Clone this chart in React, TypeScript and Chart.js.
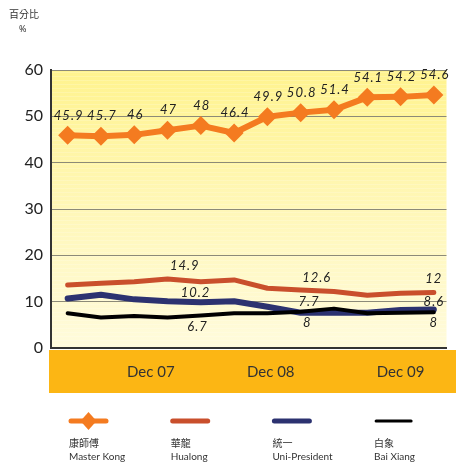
import React, { useEffect, useRef } from "react";
import { Chart, registerables } from "chart.js";

Chart.register(...registerables);

// ---- data ----
const seriesNamesZh = ["康師傅", "華龍", "統一", "白象"];
const seriesNamesEn = ["Master Kong", "Hualong", "Uni-President", "Bai Xiang"];
const seriesColors = ["#f47b20", "#c94f2c", "#2c3270", "#000000"];
const seriesWidths = [6, 5, 6, 4];

const masterKong = [45.9, 45.7, 46, 47, 48, 46.4, 49.9, 50.8, 51.4, 54.1, 54.2, 54.6];
const hualong = [13.6, 14.0, 14.3, 14.9, 14.3, 14.7, 12.9, 12.5, 12.2, 11.4, 11.8, 12.0];
const uniPresident = [10.7, 11.5, 10.5, 10.1, 9.9, 10.1, 8.9, 7.6, 7.6, 7.6, 8.2, 8.3];
const baiXiang = [7.5, 6.6, 6.9, 6.6, 7.0, 7.5, 7.5, 7.8, 8.5, 7.5, 7.6, 7.7];
const allSeries = [masterKong, hualong, uniPresident, baiXiang];

const xTickLabels = ["Dec 07", "Dec 08", "Dec 09"];
const xTickAt = [2.5, 6.1, 10.0];

const yTicks = [0, 10, 20, 30, 40, 50, 60];

// value labels for the smaller series: series index, position on x, text, pixel nudge
const extraLabels = [
  { s: 1, at: 3.52, text: "14.9", dy: -13 },
  { s: 1, at: 7.48, text: "12.6", dy: -12 },
  { s: 1, at: 11, text: "12", dy: -14 },
  { s: 2, at: 3.84, text: "10.2", dy: -8 },
  { s: 2, at: 11, text: "8.6", dy: -6 },
  { s: 3, at: 3.9, text: "6.7", dy: 10 },
  { s: 3, at: 7.25, text: "7.7", dy: -11 },
  { s: 2, at: 7.2, text: "8", dy: 12 },
  { s: 3, at: 11, text: "8", dy: 12 },
];

const bgPlugin = {
  id: "bgPlugin",
  beforeDraw(chart: any) {
    const { ctx, chartArea: a } = chart;
    ctx.save();
    ctx.fillStyle = "#ffffff";
    ctx.fillRect(0, 0, chart.width, chart.height);
    const g = ctx.createLinearGradient(0, a.top, 0, a.bottom);
    g.addColorStop(0, "#fff38e");
    g.addColorStop(0.5, "#fff7b8");
    g.addColorStop(1, "#fffbdc");
    ctx.fillStyle = g;
    ctx.fillRect(a.left, a.top, a.right - a.left, a.bottom - a.top);
    // faint stripes
    ctx.fillStyle = "rgba(255,255,255,0.18)";
    for (let y = a.top + 2; y < a.bottom; y += 4) {
      ctx.fillRect(a.left, y, a.right - a.left, 1);
    }
    // orange axis band
    ctx.fillStyle = "#fcb614";
    ctx.fillRect(a.left - 2, a.bottom + 2, chart.width - a.left + 2, 43);
    // unit title
    ctx.fillStyle = "#333333";
    ctx.font = '10px "Noto Sans CJK TC"';
    ctx.textBaseline = "middle";
    ctx.textAlign = "left";
    ctx.fillText("百分比", 9, 14);
    ctx.font = '9px "Noto Sans"';
    ctx.fillText("%", 19, 29);
    ctx.restore();
  },
};

const labelPlugin = {
  id: "labelPlugin",
  afterDatasetsDraw(chart: any) {
    const { ctx } = chart;
    const xs = chart.scales.x;
    const ys = chart.scales.y;
    ctx.save();
    ctx.fillStyle = "#222222";
    ctx.font = 'italic 13px "Lato"';
    try {
      (ctx as any).letterSpacing = "1px";
    } catch (e) {}
    ctx.textAlign = "center";
    ctx.textBaseline = "middle";
    masterKong.forEach((v, i) => {
      ctx.fillText(String(v), xs.getPixelForValue(i) + 1, ys.getPixelForValue(v) - 20);
    });
    extraLabels.forEach((l) => {
      const v = parseFloat(l.text);
      ctx.fillText(l.text, xs.getPixelForValue(l.at), ys.getPixelForValue(v) + l.dy);
    });
    ctx.restore();
  },
};

const legendPlugin = {
  id: "legendPlugin",
  afterDraw(chart: any) {
    const { ctx } = chart;
    const startX = 69;
    const step = 101.7;
    const lineY = 421;
    ctx.save();
    seriesNamesEn.forEach((name, i) => {
      const x = startX + i * step;
      ctx.strokeStyle = seriesColors[i];
      ctx.lineWidth = i === 3 ? 3 : 5;
      ctx.lineCap = "round";
      ctx.beginPath();
      ctx.moveTo(x + 2, lineY);
      ctx.lineTo(x + 37, lineY);
      ctx.stroke();
      if (i === 0) {
        ctx.fillStyle = seriesColors[0];
        const cx = x + 19.5;
        ctx.beginPath();
        ctx.moveTo(cx, lineY - 9);
        ctx.lineTo(cx + 8, lineY);
        ctx.lineTo(cx, lineY + 9);
        ctx.lineTo(cx - 8, lineY);
        ctx.closePath();
        ctx.fill();
      }
      ctx.fillStyle = "#333333";
      ctx.textAlign = "left";
      ctx.textBaseline = "middle";
      ctx.font = '10px "Noto Sans CJK TC"';
      ctx.fillText(seriesNamesZh[i], x, 443);
      ctx.font = '10px "Lato"';
      ctx.fillText(name, x, 457);
    });
    ctx.restore();
  },
};

export default function App() {
  const ref = useRef<HTMLCanvasElement | null>(null);
  useEffect(() => {
    document.body.style.margin = "0";
    const canvas = ref.current;
    if (!canvas) return;
    const chart = new Chart(canvas, {
      type: "line",
      data: {
        datasets: allSeries.map((vals, si) => ({
          label: seriesNamesEn[si],
          data: vals.map((v, i) => ({ x: i, y: v })),
          borderColor: seriesColors[si],
          backgroundColor: seriesColors[si],
          borderWidth: seriesWidths[si],
          borderJoinStyle: "round" as const,
          borderCapStyle: "round" as const,
          pointRadius: si === 0 ? 9.5 : 0,
          pointHoverRadius: si === 0 ? 9.5 : 0,
          pointStyle: "rectRot",
          pointBorderWidth: 0,
          tension: 0,
          fill: false,
          clip: false as any,
          order: 4 - si,
        })),
      },
      options: {
        responsive: false,
        animation: false,
        layout: { padding: { top: 70, left: 0, right: 0, bottom: 0 } },
        plugins: {
          legend: { display: false },
          tooltip: { enabled: false },
          title: { display: false },
        },
        scales: {
          x: {
            type: "linear",
            min: -0.5,
            max: 11.38,
            afterFit: (s: any) => {
              s.height = 117;
            },
            afterBuildTicks: (s: any) => {
              s.ticks = xTickAt.map((v) => ({ value: v }));
            },
            grid: { display: false, drawTicks: false },
            border: { display: true, color: "#333333", width: 2 },
            ticks: {
              autoSkip: false,
              maxRotation: 0,
              padding: 15,
              color: "#333333",
              font: { family: "Lato", size: 15 },
              callback: (v: any) => {
                const idx = xTickAt.indexOf(Number(v));
                return idx >= 0 ? xTickLabels[idx] : "";
              },
            },
          },
          y: {
            min: 0,
            max: 60,
            afterFit: (s: any) => {
              s.width = 51;
            },
            afterBuildTicks: (s: any) => {
              s.ticks = yTicks.map((v) => ({ value: v }));
            },
            grid: { color: "#8c8a78", lineWidth: 1, drawTicks: false },
            border: { display: true, color: "#333333", width: 2 },
            ticks: {
              padding: 8,
              color: "#222222",
              font: { family: "Lato", size: 16 },
            },
          },
        },
      },
      plugins: [bgPlugin, labelPlugin, legendPlugin],
    });
    return () => chart.destroy();
  }, []);
  return <canvas ref={ref} width={456} height={465} style={{ display: "block" }} />;
}
